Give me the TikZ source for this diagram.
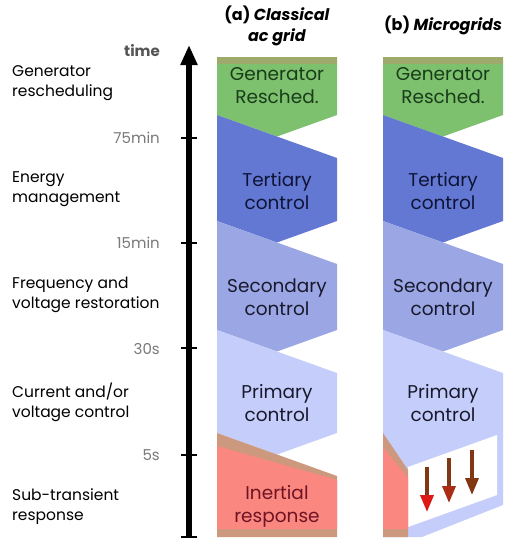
\documentclass[tikz,border=0pt]{standalone}
\usepackage{fontspec}
\setmainfont{Poppins}
\usetikzlibrary{arrows.meta}

\definecolor{genGreen}{RGB}{125,192,110}
\definecolor{genShade}{RGB}{158,170,108}
\definecolor{tertBlue}{RGB}{99,120,210}
\definecolor{secBlue}{RGB}{155,166,228}
\definecolor{primBlue}{RGB}{197,206,250}
\definecolor{inertRed}{RGB}{250,135,128}
\definecolor{tanShade}{RGB}{204,152,126}
\definecolor{genText}{RGB}{25,60,25}
\definecolor{tertText}{RGB}{15,20,55}
\definecolor{secText}{RGB}{25,25,45}
\definecolor{inertText}{RGB}{110,20,35}
\definecolor{tickGray}{RGB}{120,120,120}
\definecolor{timeGray}{RGB}{85,85,85}
\definecolor{dropBrown}{RGB}{130,55,20}
\definecolor{dropRed}{RGB}{220,25,20}
\definecolor{dropMid}{RGB}{170,45,20}

\begin{document}
\begin{tikzpicture}[x=1pt,y=-1pt,
        blocktext/.style={
            align=center,
            inner sep=0pt,
            font=\fontsize{18.5}{23}\selectfont
        },
        sidelabel/.style={
            anchor=west,
            align=left,
            inner sep=0pt,
            font=\fontsize{15.5}{20}\selectfont
        },
        ticklabel/.style={anchor=east, inner sep=0pt, text=tickGray,
            font=\fontsize{15}{18}\selectfont},
        header/.style={align=center, inner sep=0pt,
            font=\bfseries\fontsize{16}{21}\selectfont},
        timeaxis/.style={line width=5.5pt, -{Triangle[length=20pt,width=16pt]}},
        tick/.style={line width=2pt},
        drop/.style={line width=3.5pt, draw=dropBrown,
            -{Triangle[length=17pt,width=13pt,color=#1]}}
    ]
    \useasboundingbox (0,0) rectangle (513,550);

    % =========================
    % Column headers
    % =========================
    \node[header] (heada) at (277,25.5) {(a) \textit{Classical}\\\textit{ac grid}};
    \node[header] (headb) at (443,25) {(b) \textit{Microgrids}};

    % =========================
    % Time axis
    % =========================
    \coordinate (axbot) at (189,537);
    \coordinate (axtop) at (189,45);
    \draw[timeaxis] (axbot) -- (axtop);
    \foreach \ty in {138,243,348,455,537}
        \draw[tick] (181,\ty) -- (197,\ty);

    \node[anchor=east, inner sep=0pt, text=timeGray,
          font=\bfseries\fontsize{15}{18}\selectfont] (time) at (160,51) {time};
    \node[ticklabel] (t75) at (160,138) {75min};
    \node[ticklabel] (t15) at (160,243) {15min};
    \node[ticklabel] (t30) at (160,349) {30s};
    \node[ticklabel] (t5)  at (160,455) {5s};

    % =========================
    % Left labels
    % =========================
    \node[sidelabel] (lgen)  at (12,83)  {Generator\\rescheduling};
    \node[sidelabel] (lenr)  at (12,189) {Energy\\management};
    \node[sidelabel] (lfreq) at (12,295) {Frequency and\\voltage restoration};
    \node[sidelabel] (lcur)  at (12,402) {Current and/or\\voltage control};
    \node[sidelabel] (lsub)  at (12,507) {Sub-transient\\response};

    % =========================
    % Upper blocks, both columns
    % =========================
    \foreach \xa/\col in {217/a,383/b} {
        \pgfmathsetmacro\xb{\xa+120}
        \pgfmathsetmacro\xm{\xa+60}
        % generator rescheduling
        \fill[genGreen] (\xa,57) -- (\xb,57) -- (\xb,115) -- (\xm,136.5) -- (\xa,115) -- cycle;
        \fill[genShade] (\xa,57) rectangle (\xb,64);
        % tertiary
        \fill[tertBlue] (\xa,115) -- (\xb,158) -- (\xb,221) -- (\xm,242.5) -- (\xa,221) -- cycle;
        % secondary
        \fill[secBlue] (\xa,221) -- (\xb,264) -- (\xb,330) -- (\xm,351.5) -- (\xa,330) -- cycle;

        \node[blocktext, text=genText]  (gen\col)  at (\xm,86)  {Generator\\Resched.};
        \node[blocktext, text=tertText] (tert\col) at (\xm,191) {Tertiary\\control};
        \node[blocktext, text=secText]  (sec\col)  at (\xm,297) {Secondary\\control};
    }

    % =========================
    % (a) Primary and inertial
    % =========================
    \fill[primBlue] (217,330) -- (337,373) -- (337,433) -- (277,454.5) -- (217,433) -- cycle;
    \fill[tanShade] (217,433) -- (337,476) -- (337,537) -- (217,537) -- cycle;
    \fill[inertRed] (217,446) -- (337,480) -- (337,529) -- (217,529) -- cycle;
    \node[blocktext, text=secText]   (prima) at (277,403) {Primary\\control};
    \node[blocktext, text=inertText] (inera) at (277,506) {Inertial\\response};

    % =========================
    % (b) Primary with power electronics
    % =========================
    \fill[primBlue] (383,330) -- (503,373) -- (503,505) -- (422,537) -- (383,537) -- cycle;
    \fill[white] (408,467) -- (497,435) -- (497,495) -- (408,527) -- cycle;
    \fill[tanShade] (383,433) -- (408,470) -- (408,537) -- (383,537) -- cycle;
    \fill[inertRed] (383,447) -- (408,478) -- (408,529) -- (383,529) -- cycle;
    \node[blocktext, text=secText] (primb) at (443,403) {Primary\\control};

    \coordinate (d1s) at (427,467);
    \coordinate (d1e) at (427,512);
    \coordinate (d2s) at (449,458);
    \coordinate (d2e) at (449,503);
    \coordinate (d3s) at (472,450);
    \coordinate (d3e) at (472,495);
    \draw[drop=dropRed] (d1s) -- (d1e);
    \draw[drop=dropMid] (d2s) -- (d2e);
    \draw[drop=dropBrown] (d3s) -- (d3e);

\end{tikzpicture}
\end{document}
